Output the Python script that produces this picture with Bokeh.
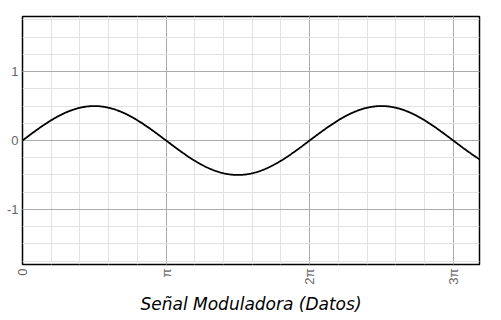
import numpy as np
from bokeh.plotting import figure
from bokeh.models import FixedTicker, CustomJSTickFormatter, Range1d
from bokeh.embed import file_html
from bokeh.resources import INLINE

# data
amplitude = 0.5
x_max = 10.0
x_ticks = [0.0, np.pi, 2 * np.pi, 3 * np.pi]
x_tick_labels = ["0", "π", "2π", "3π"]
x_minor = [k * np.pi / 5 for k in range(0, 16)]
y_ticks = [-1, 0, 1]
y_tick_labels = ["-1", "0", "1"]
y_minor = [k * 0.25 for k in range(-7, 8)]
x_label = "Señal Moduladora (Datos)"

t = np.linspace(0, x_max, 600)
signal = amplitude * np.sin(t)

p = figure(width=501, height=320, output_backend="svg", toolbar_location=None,
           x_range=Range1d(0, x_max), y_range=Range1d(-1.8, 1.8),
           min_border_left=22, min_border_right=22, min_border_top=16, min_border_bottom=56)

p.line(t, signal, line_color="black", line_width=1.8)

p.outline_line_color = "black"
p.outline_line_width = 1.5
p.outline_line_alpha = 1
p.background_fill_color = "white"
p.border_fill_color = "white"

xt = FixedTicker(ticks=x_ticks, minor_ticks=x_minor)
yt = FixedTicker(ticks=y_ticks, minor_ticks=y_minor)
p.xaxis.ticker = xt
p.yaxis.ticker = yt
p.xgrid.ticker = xt
p.ygrid.ticker = yt

p.xaxis.formatter = CustomJSTickFormatter(args=dict(labels=x_tick_labels),
    code="const n = Math.round(tick/Math.PI); return labels[n];")
p.yaxis.formatter = CustomJSTickFormatter(args=dict(labels=y_tick_labels),
    code="return labels[Math.round(tick) + 1];")

for g in (p.xgrid, p.ygrid):
    g.grid_line_color = "#ababab"
    g.grid_line_width = 1
    g.minor_grid_line_color = "#e2e2e2"
    g.minor_grid_line_width = 1

for ax in (p.xaxis, p.yaxis):
    ax.axis_line_color = None
    ax.major_tick_line_color = None
    ax.minor_tick_line_color = None
    ax.major_tick_out = 0
    ax.major_tick_in = 0
    ax.minor_tick_out = 0
    ax.minor_tick_in = 0
    ax.major_label_text_color = "#666666"
    ax.major_label_text_font = "Liberation Sans"
    ax.major_label_text_font_size = "13px"

p.yaxis.major_label_standoff = 4
p.xaxis.major_label_orientation = np.pi / 2
p.xaxis.major_label_standoff = 4
p.xaxis.axis_label = x_label
p.xaxis.axis_label_text_font = "DejaVu Sans"
p.xaxis.axis_label_text_font_style = "italic"
p.xaxis.axis_label_text_font_size = "17px"
p.xaxis.axis_label_text_color = "black"
p.xaxis.axis_label_standoff = 6

open("out.html", "w").write(file_html(p, INLINE))
